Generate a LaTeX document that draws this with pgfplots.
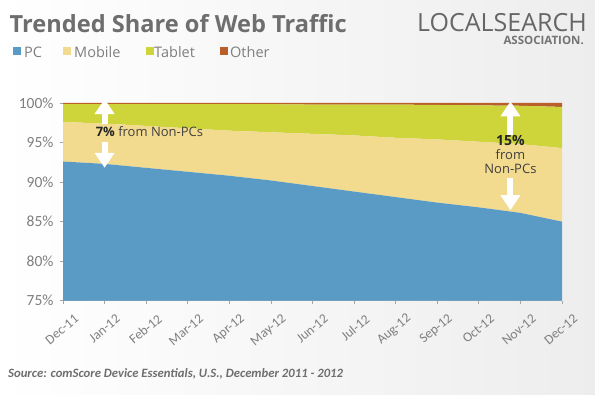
\documentclass[border=0pt]{standalone}
\usepackage{pgfplots}
\pgfplotsset{compat=1.18}
\usepackage{pgfplotstable}
\usetikzlibrary{arrows.meta}
\usepackage{fontspec}
\setmainfont{Carlito}
\newfontfamily\osans{Open Sans}
\definecolor{pcblue}{HTML}{5A9BC5}
\definecolor{mobyel}{HTML}{F2DA8F}
\definecolor{tabgrn}{HTML}{CDD53B}
\definecolor{othbrn}{HTML}{B85F2A}
\definecolor{titlegray}{HTML}{6E6E6E}
\definecolor{tickgray}{HTML}{7F7F7F}
\definecolor{axisgray}{HTML}{A6A6A6}
\definecolor{anngray}{HTML}{404040}
\pgfplotstableread{
x pc mob tab oth
0 92.6 5.0 2.25 0.15
1 92.3 5.1 2.45 0.15
2 91.8 5.3 2.75 0.15
3 91.3 5.5 3.05 0.15
4 90.8 5.7 3.35 0.15
5 90.2 6.1 3.55 0.15
6 89.5 6.6 3.7 0.2
7 88.8 7.1 3.9 0.2
8 88.1 7.5 4.2 0.2
9 87.4 8.0 4.35 0.25
10 86.8 8.3 4.6 0.3
11 86.1 8.7 4.85 0.35
12 85.0 9.3 5.2 0.5
}\traffic
\begin{document}
\begin{tikzpicture}[x=1pt,y=1pt]
\shade[left color=white, right color=black!7] (0,0) rectangle (595,395);
\begin{axis}[
  at={(63pt,94.3pt)}, anchor=south west, scale only axis,
  width=499pt, height=197.7pt,
  xmin=0, xmax=12, ymin=75, ymax=100,
  stack plots=y,
  axis x line*=bottom, axis y line*=left,
  axis line style={axisgray, line width=0.8pt},
  tick style={axisgray, line width=0.8pt},
  tick align=outside, major tick length=3pt,
  xtick={0,...,12},
  xticklabels={Dec-11,Jan-12,Feb-12,Mar-12,Apr-12,May-12,Jun-12,Jul-12,Aug-12,Sep-12,Oct-12,Nov-12,Dec-12},
  ytick={75,80,...,100},
  yticklabel={\pgfmathprintnumber{\tick}\%},
  /pgf/number format/assume math mode=true,
  yticklabel style={font=\fontsize{15.5}{17}\selectfont, text=tickgray, xshift=-3pt},
  xticklabel style={font=\fontsize{13.5}{15}\selectfont, text=tickgray, rotate=40, anchor=east, inner sep=0pt, xshift=2pt, yshift=-19pt},
]
\addplot[draw=none, fill=pcblue] table[x=x,y=pc]{\traffic} \closedcycle;
\addplot[draw=none, fill=mobyel] table[x=x,y=mob]{\traffic} \closedcycle;
\addplot[draw=none, fill=tabgrn] table[x=x,y=tab]{\traffic} \closedcycle;
\addplot[draw=none, fill=othbrn] table[x=x,y=oth]{\traffic} \closedcycle;
\coordinate (L1) at (axis cs:1,100.5);
\coordinate (L2) at (axis cs:1,97.3);
\coordinate (L3) at (axis cs:1,95.1);
\coordinate (L4) at (axis cs:1,91.8);
\coordinate (LT) at (axis cs:1,95.7);
\coordinate (R1) at (axis cs:10.76,100.2);
\coordinate (R2) at (axis cs:10.76,95.9);
\coordinate (R3) at (axis cs:10.76,90.5);
\coordinate (R4) at (axis cs:10.76,86.45);
\coordinate (RT) at (axis cs:10.76,95.7);
\end{axis}
\draw[white, line width=6pt, -{Triangle[width=19pt,length=15pt]}] (L2) -- (L1);
\draw[white, line width=6pt, -{Triangle[width=19pt,length=15pt]}] (L3) -- (L4);
\draw[white, line width=6pt, -{Triangle[width=19pt,length=15pt]}] (R2) -- (R1);
\draw[white, line width=6pt, -{Triangle[width=19pt,length=15pt]}] (R3) -- (R4);
\node[anchor=base west, inner sep=0pt, text=anngray, font=\osans\fontsize{13}{14}\selectfont] at ([xshift=-9pt]LT) {{\bfseries\color{black!85}7\%} from Non-PCs};
\node[anchor=north, inner sep=0pt, align=center, text=anngray, font=\osans\fontsize{13}{14}\selectfont] at ([yshift=2pt]RT) {{\bfseries\color{black!85}\fontsize{14}{14}\selectfont 15\%}\\from\\Non-PCs};
% title
\node[anchor=base west, inner sep=0pt, text=titlegray, font=\osans\bfseries\fontsize{23.6}{26}\selectfont] at (9.5,362.7) {Trended Share of Web Traffic};
% legend
\fill[pcblue] (12.7,340) rectangle ++(8,8);
\node[anchor=base west, inner sep=0pt, text=tickgray, font=\osans\fontsize{14.5}{16}\selectfont] at (24,337) {PC};
\fill[mobyel] (63,340) rectangle ++(8,8);
\node[anchor=base west, inner sep=0pt, text=tickgray, font=\osans\fontsize{14.5}{16}\selectfont] at (74,337) {Mobile};
\fill[tabgrn] (146,340) rectangle ++(8,8);
\node[anchor=base west, inner sep=0pt, text=tickgray, font=\osans\fontsize{14.5}{16}\selectfont] at (154,337) {Tablet};
\fill[othbrn] (220,340) rectangle ++(8,8);
\node[anchor=base west, inner sep=0pt, text=tickgray, font=\osans\fontsize{14.5}{16}\selectfont] at (230,337) {Other};
% logo
\node[anchor=base east, inner sep=0pt, text=black!60, font=\osans\fontsize{25}{27}\selectfont] at (587,363) {LOCALSEARCH};
\node[anchor=base east, inner sep=0pt, text=black!55, font=\osans\bfseries\fontsize{11.5}{14}\selectfont] at (584,350) {ASSOCIATION.};
% source
\node[anchor=base west, inner sep=0pt, text=titlegray, font=\bfseries\itshape\fontsize{12.7}{14}\selectfont] at (8,17) {Source: comScore Device Essentials, U.S., December 2011 - 2012};
\end{tikzpicture}
\end{document}
